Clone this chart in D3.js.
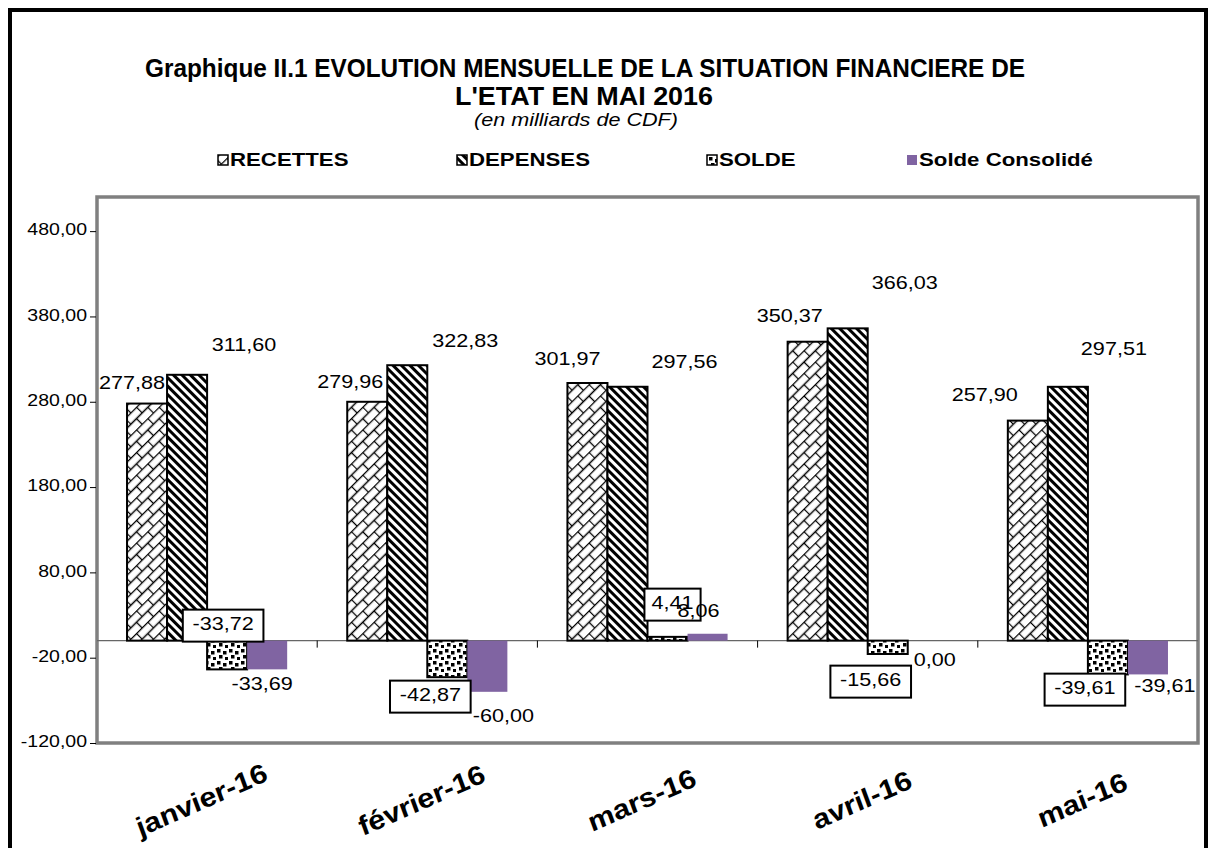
<!DOCTYPE html>
<html><head><meta charset="utf-8">
<script src="https://cdn.jsdelivr.net/npm/d3@7"></script>
<style>body{margin:0;background:#fff}svg{display:block}text{font-family:"Liberation Sans",Arial,sans-serif}</style>
</head><body><svg id="c" width="1210" height="848"></svg>
<script>
const categories = ["janvier-16","février-16","mars-16","avril-16","mai-16"];
const recettes = [277.88, 279.96, 301.97, 350.37, 257.90];
const depenses = [311.60, 322.83, 297.56, 366.03, 297.51];
const solde = [-33.72, -42.87, 4.41, -15.66, -39.61];
const soldeConsolide = [-33.69, -60.00, 8.06, 0.00, -39.61];
const seriesNames = ["RECETTES","DEPENSES","SOLDE","Solde Consolidé"];
const yTicks = [-120, -20, 80, 180, 280, 380, 480];
const titleLines = ["Graphique II.1  EVOLUTION MENSUELLE DE LA SITUATION FINANCIERE DE", "L'ETAT EN  MAI 2016"];
const subtitle = "(en milliards de CDF)";

// label offsets (layout only): [dx, dy]
const recOff = [[-15,-19],[-17,-19],[-20,-23],[-18,-24],[-43,-24]];
const depOff = [[57,-29],[58,-23],[57,-24],[57,-44],[46,-37]];
const solOff = [[-4,-15],[-17,56],[5,-36],[-17,41],[-23,49]];   // dy from zero line
const conOff = [[-5,45],[16,77],[-9,-28],[7,21],[17,47]];      // dy from zero line

const svg = d3.select("#c");
const SX = 1.2; // horizontal text stretch seen in reference
const fmt = v => d3.format(".2f")(v).replace(".", ",").replace("−","-");

// frame
svg.append("rect").attr("x",10).attr("y",10).attr("width",1196).attr("height",870)
  .attr("fill","none").attr("stroke","#000").attr("stroke-width",4);

const defs = svg.append("defs");
const pb = defs.append("pattern").attr("id","pRec").attr("patternUnits","userSpaceOnUse")
  .attr("width",16).attr("height",16).attr("patternTransform","rotate(-45)");
pb.append("rect").attr("width",16).attr("height",16).attr("fill","#fff");
pb.append("path").attr("d","M0,0.5H16M0,8.5H16M0.5,0V8.5M8.5,8.5V16").attr("stroke","#000").attr("stroke-width",1.3).attr("fill","none");
const pd = defs.append("pattern").attr("id","pDep").attr("patternUnits","userSpaceOnUse")
  .attr("width",6).attr("height",6).attr("patternTransform","rotate(-45)");
pd.append("rect").attr("width",6).attr("height",6).attr("fill","#fff");
pd.append("rect").attr("width",3).attr("height",6).attr("fill","#000");
const pc = defs.append("pattern").attr("id","pSol").attr("patternUnits","userSpaceOnUse")
  .attr("width",12).attr("height",12);
pc.append("rect").attr("width",12).attr("height",12).attr("fill","#fff");
[[1,1],[7,3],[3,7],[9,9]].forEach(([x,y])=>pc.append("rect").attr("x",x).attr("y",y).attr("width",3.5).attr("height",3.5).attr("fill","#000"));

const fills = ["url(#pRec)","url(#pDep)","url(#pSol)","#8064A2"];
const strokes = ["#000","#000","#000","none"];

const L = 97, R = 1198, T = 197, B = 743;
const x0 = d3.scaleBand().domain(categories).range([L,R]).paddingInner(0).paddingOuter(0);
const x1 = d3.scaleBand().domain(seriesNames).range([0,x0.bandwidth()]).paddingOuter(0.75).paddingInner(0);
const y = d3.scaleLinear().domain([-120,520]).range([B,T]);

function stext(g, x, yy, str, opts){
  const t = g.append("text").attr("transform",`translate(${x},${yy}) scale(${opts.sx||SX},1)`)
    .attr("text-anchor",opts.anchor||"middle").attr("font-size",opts.size||16)
    .attr("font-weight",opts.weight||"normal").attr("font-style",opts.style||"normal")
    .attr("dominant-baseline",opts.base||"auto").text(str);
  if (opts.family) t.style("font-family",opts.family);
  return t;
}

// plot area border
svg.append("rect").attr("x",L).attr("y",T).attr("width",R-L).attr("height",B-T)
  .attr("fill","none").attr("stroke","#808080").attr("stroke-width",3.5);

// y axis
const ya = svg.append("g").attr("transform",`translate(${L-1},0)`)
  .call(d3.axisLeft(y).tickValues(yTicks).tickSize(6).tickFormat(fmt));
ya.select(".domain").remove();
ya.selectAll(".tick line").attr("stroke","#000");
ya.selectAll(".tick text").remove();
yTicks.forEach(v => stext(svg, 87, y(v), fmt(v), {anchor:"end", size:16, base:"middle", sx:1.22}));

// zero line with category ticks
svg.append("line").attr("x1",L).attr("x2",R).attr("y1",y(0)).attr("y2",y(0)).attr("stroke","#666").attr("stroke-width",1.2);
categories.slice(1).forEach(c => svg.append("line").attr("x1",x0(c)).attr("x2",x0(c))
  .attr("y1",y(0)).attr("y2",y(0)+7).attr("stroke","#000"));

// bars
const seriesData = [recettes, depenses, solde, soldeConsolide];
seriesData.forEach((vals, si) => {
  svg.append("g").selectAll("rect").data(vals).join("rect")
    .attr("x",(d,i)=>x0(categories[i])+x1(seriesNames[si]))
    .attr("width",x1.bandwidth())
    .attr("y",d=>Math.min(y(d),y(0)))
    .attr("height",d=>Math.abs(y(d)-y(0)))
    .attr("fill",fills[si])
    .attr("stroke",strokes[si]).attr("stroke-width",2);
});

// labels
const lg = svg.append("g");
const cx = (si,i) => x0(categories[i]) + x1(seriesNames[si]) + x1.bandwidth()/2;
recettes.forEach((v,i)=> stext(lg, cx(0,i)+recOff[i][0], y(v)+recOff[i][1], fmt(v), {size:18, base:"middle"}));
depenses.forEach((v,i)=> stext(lg, cx(1,i)+depOff[i][0], y(v)+depOff[i][1], fmt(v), {size:18, base:"middle"}));
solde.forEach((v,i)=>{
  const px = cx(2,i)+solOff[i][0], py = y(0)+solOff[i][1];
  const t = fmt(v);
  const w = (t.length*10.2 + 6)*SX, h = 32;
  lg.append("rect").attr("x",px-w/2).attr("y",py-h/2).attr("width",w).attr("height",h)
    .attr("fill","#fff").attr("stroke","#000").attr("stroke-width",2);
  stext(lg, px, py, t, {size:18, base:"middle"});
});
soldeConsolide.forEach((v,i)=> stext(lg, cx(3,i)+conOff[i][0], y(0)+conOff[i][1], fmt(v), {size:18, base:"middle"}));

// x category labels
categories.forEach(c => {
  const gx = x0(c)+x0.bandwidth()/2 - 5;
  svg.append("text").attr("transform",`translate(${gx},802) scale(${SX},1) rotate(-28)`)
    .attr("text-anchor","middle").attr("dominant-baseline","middle")
    .attr("font-size",26).attr("font-weight","bold").attr("font-style","italic").text(c);
});

// title
const narrow = '"Liberation Sans Narrow","Arial Narrow","Liberation Sans",Arial,sans-serif';
svg.append("text").attr("x",585).attr("y",77).attr("text-anchor","middle")
  .attr("font-size",25).attr("font-weight","bold").style("font-family",narrow)
  .attr("textLength",880).attr("lengthAdjust","spacingAndGlyphs").text(titleLines[0]);
svg.append("text").attr("x",584).attr("y",105).attr("text-anchor","middle")
  .attr("font-size",25).attr("font-weight","bold").style("font-family",narrow)
  .attr("textLength",258).attr("lengthAdjust","spacingAndGlyphs").text(titleLines[1]);
svg.append("text").attr("x",576).attr("y",126).attr("text-anchor","middle")
  .attr("font-size",19).attr("font-style","italic").style("font-family",narrow)
  .attr("textLength",204).attr("lengthAdjust","spacingAndGlyphs").text(subtitle);

// legend
const legX = [218, 457, 707, 907];
seriesNames.forEach((n,i)=>{
  svg.append("rect").attr("x",legX[i]).attr("y",155).attr("width",10).attr("height",10)
    .attr("fill",fills[i]).attr("stroke",i<3?"#000":"none").attr("stroke-width",1.5);
  stext(svg, legX[i]+12, 161, n, {anchor:"start", size:19, weight:"bold", base:"middle", sx:1.17});
});
</script></body></html>
